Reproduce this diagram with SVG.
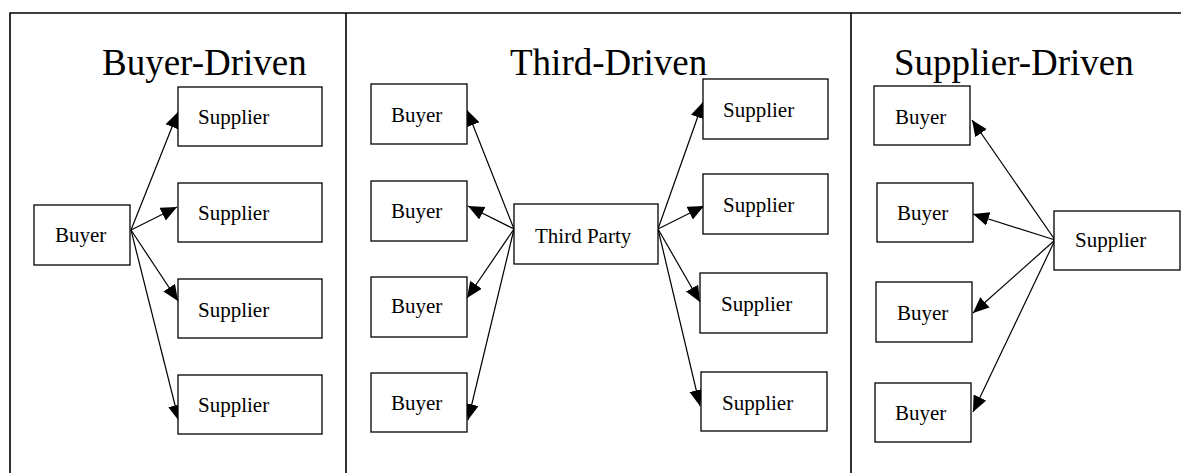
<svg xmlns="http://www.w3.org/2000/svg" width="1181" height="473" viewBox="0 0 1181 473">
<style>
.frame{fill:none;stroke:#000;stroke-width:1.6}
.box{fill:#fff;stroke:#000;stroke-width:1.3}
.lbl{font-family:"Liberation Serif","Times New Roman",serif;font-size:21px;fill:#000}
.title{font-family:"Liberation Serif","Times New Roman",serif;font-size:37px;fill:#000}
.edge{stroke:#000;stroke-width:1.2;fill:none;marker-end:url(#ah)}
</style>
<defs>
<marker id="ah" markerUnits="userSpaceOnUse" markerWidth="17" markerHeight="15" refX="16" refY="7" orient="auto">
<path d="M0,0 L16,7 L0,14 z" fill="#000"/>
</marker>
</defs>
<rect width="1181" height="473" fill="#fff"/>
<g id="frame">
<path class="frame" d="M10,473 V13 H1181 M346,13 V473 M851,13 V473"/>
</g>
<g id="titles">
<text class="title" x="102" y="75">Buyer-Driven</text>
<text class="title" x="510" y="75">Third-Driven</text>
<text class="title" x="894" y="75">Supplier-Driven</text>
</g>
<g id="connectors">
<line class="edge" x1="131" y1="230" x2="178" y2="112"/>
<line class="edge" x1="131" y1="230" x2="177" y2="207"/>
<line class="edge" x1="131" y1="230" x2="178" y2="301"/>
<line class="edge" x1="131" y1="230" x2="179" y2="421"/>
<line class="edge" x1="514" y1="229" x2="467" y2="110"/>
<line class="edge" x1="514" y1="229" x2="468" y2="206"/>
<line class="edge" x1="514" y1="229" x2="467" y2="298"/>
<line class="edge" x1="514" y1="229" x2="468" y2="420"/>
<line class="edge" x1="658" y1="229" x2="703" y2="102"/>
<line class="edge" x1="658" y1="229" x2="704" y2="206"/>
<line class="edge" x1="658" y1="229" x2="700" y2="302"/>
<line class="edge" x1="658" y1="229" x2="700" y2="406"/>
<line class="edge" x1="1055" y1="240" x2="972" y2="120"/>
<line class="edge" x1="1055" y1="240" x2="973" y2="214"/>
<line class="edge" x1="1055" y1="240" x2="973" y2="313"/>
<line class="edge" x1="1055" y1="240" x2="973" y2="412"/>
</g>
<g id="bd-buyer"><rect class="box" x="34" y="205" width="96" height="60"/><text class="lbl" x="55" y="242">Buyer</text></g>
<g id="bd-supplier1"><rect class="box" x="178" y="87" width="144" height="59"/><text class="lbl" x="198" y="124">Supplier</text></g>
<g id="bd-supplier2"><rect class="box" x="178" y="183" width="144" height="59"/><text class="lbl" x="198" y="220">Supplier</text></g>
<g id="bd-supplier3"><rect class="box" x="178" y="279" width="144" height="59"/><text class="lbl" x="198" y="317">Supplier</text></g>
<g id="bd-supplier4"><rect class="box" x="178" y="375" width="144" height="59"/><text class="lbl" x="198" y="412">Supplier</text></g>
<g id="td-buyer1"><rect class="box" x="371" y="84" width="96" height="60"/><text class="lbl" x="391" y="122">Buyer</text></g>
<g id="td-buyer2"><rect class="box" x="371" y="181" width="96" height="60"/><text class="lbl" x="391" y="218">Buyer</text></g>
<g id="td-buyer3"><rect class="box" x="371" y="277" width="96" height="60"/><text class="lbl" x="391" y="313">Buyer</text></g>
<g id="td-buyer4"><rect class="box" x="371" y="373" width="96" height="59"/><text class="lbl" x="391" y="410">Buyer</text></g>
<g id="td-thirdparty"><rect class="box" x="514" y="204" width="144" height="60"/><text class="lbl" x="535" y="243">Third Party</text></g>
<g id="td-supplier1"><rect class="box" x="703" y="79" width="125" height="60"/><text class="lbl" x="723" y="117">Supplier</text></g>
<g id="td-supplier2"><rect class="box" x="703" y="174" width="125" height="60"/><text class="lbl" x="723" y="212">Supplier</text></g>
<g id="td-supplier3"><rect class="box" x="700" y="273" width="127" height="60"/><text class="lbl" x="721" y="311">Supplier</text></g>
<g id="td-supplier4"><rect class="box" x="701" y="372" width="126" height="59"/><text class="lbl" x="722" y="410">Supplier</text></g>
<g id="sd-buyer1"><rect class="box" x="874" y="86" width="96" height="59"/><text class="lbl" x="895" y="124">Buyer</text></g>
<g id="sd-buyer2"><rect class="box" x="877" y="183" width="96" height="59"/><text class="lbl" x="897" y="220">Buyer</text></g>
<g id="sd-buyer3"><rect class="box" x="876" y="282" width="96" height="60"/><text class="lbl" x="897" y="320">Buyer</text></g>
<g id="sd-buyer4"><rect class="box" x="875" y="383" width="96" height="59"/><text class="lbl" x="895" y="420">Buyer</text></g>
<g id="sd-supplier"><rect class="box" x="1054" y="211" width="126" height="59"/><text class="lbl" x="1075" y="247">Supplier</text></g>
</svg>
